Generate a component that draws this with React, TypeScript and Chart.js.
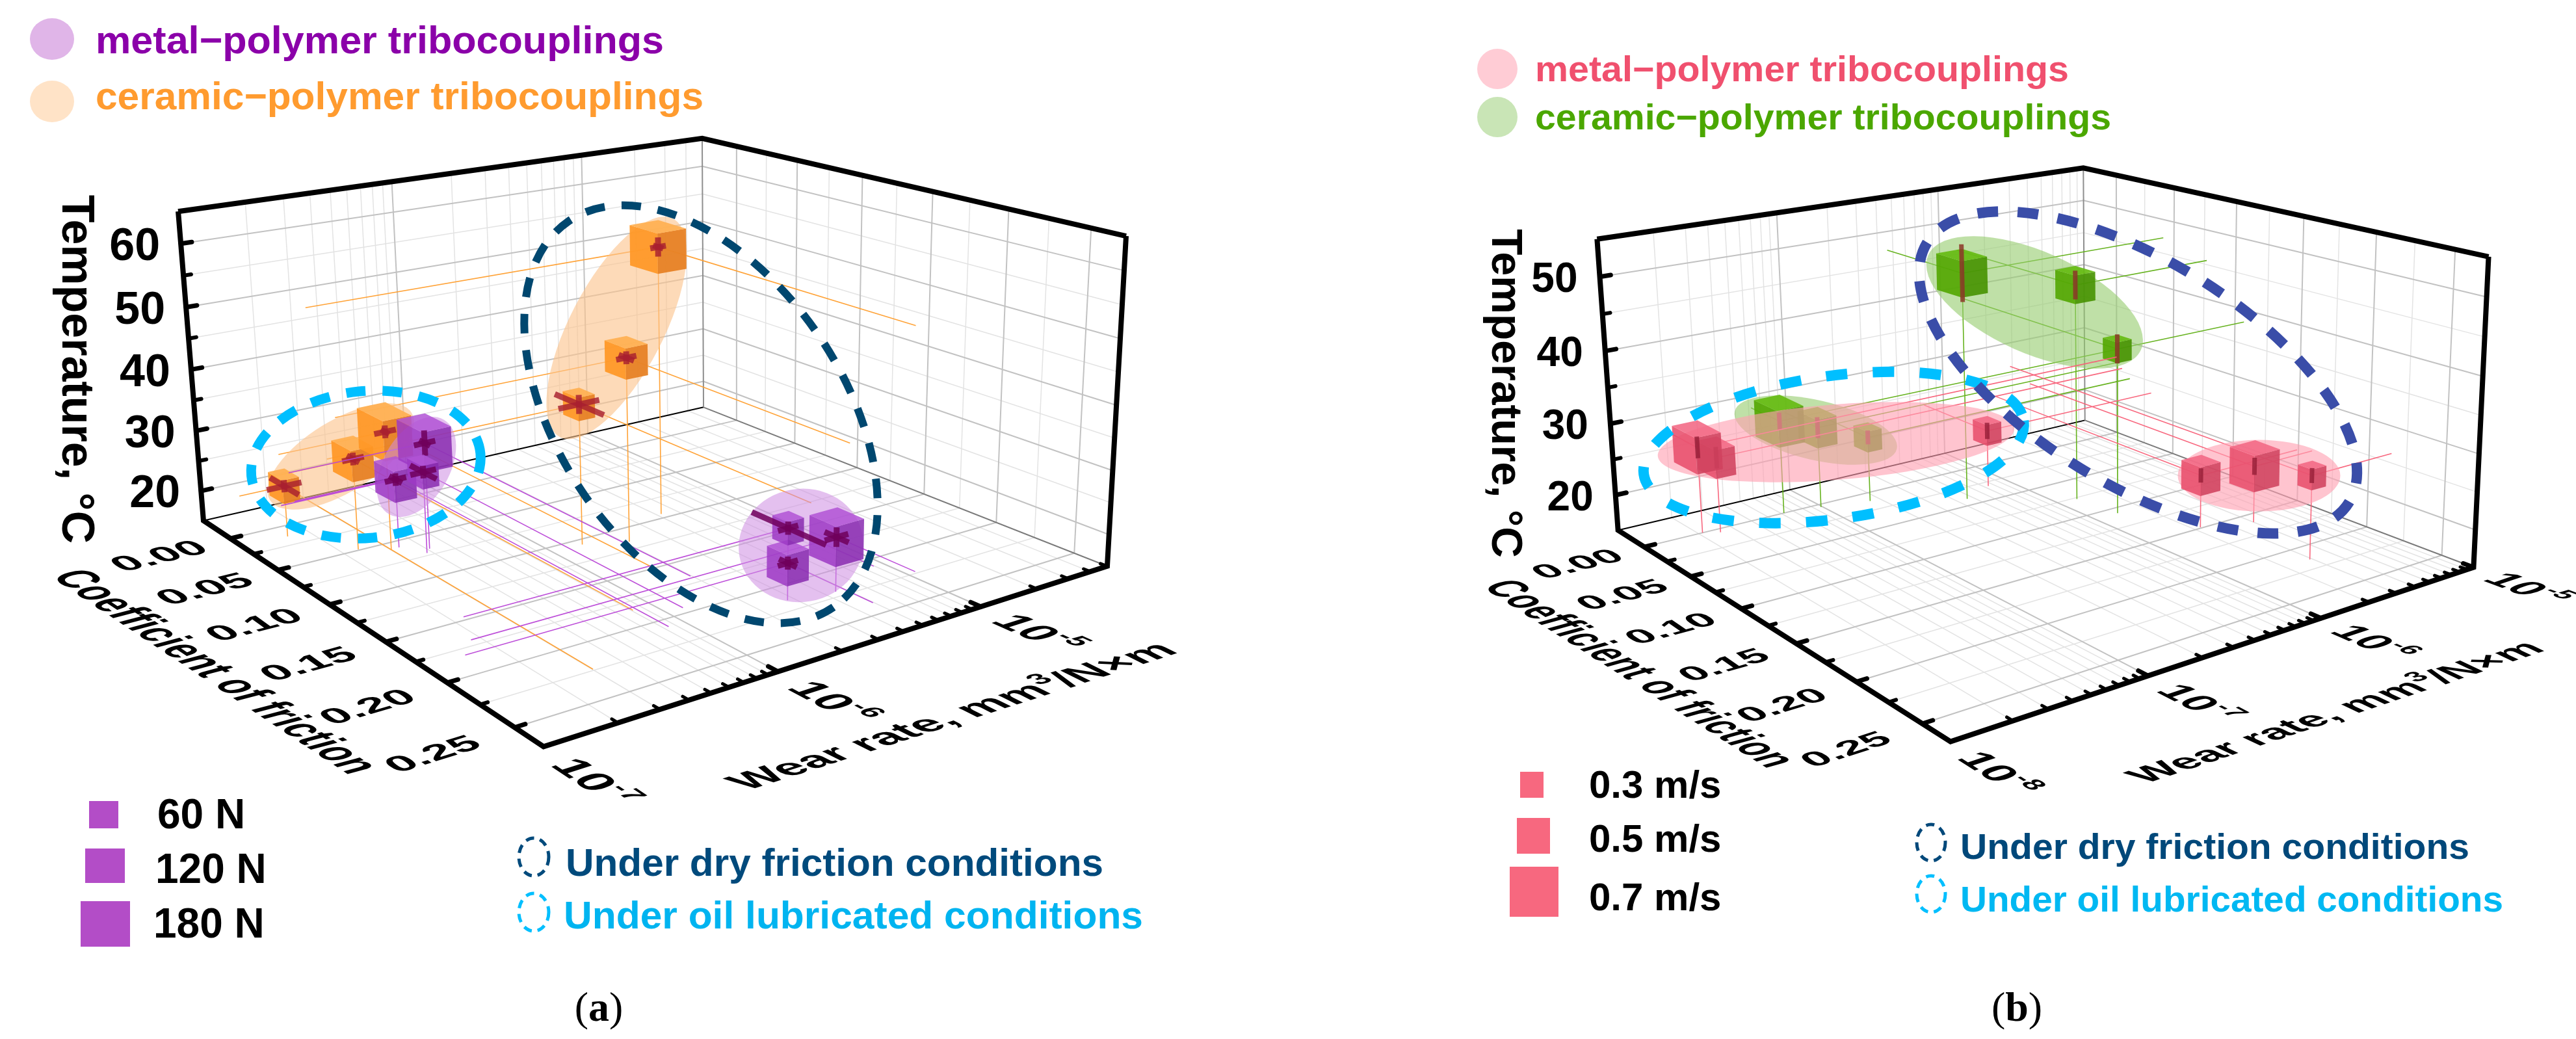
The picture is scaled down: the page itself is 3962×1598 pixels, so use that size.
import React, { useEffect, useRef } from "react";
import { Chart, registerables } from "chart.js";

Chart.register(...registerables);

const SANS = '"Liberation Sans", Arial, Helvetica, sans-serif';
const SERIF = '"Liberation Serif", "Times New Roman", Times, serif';

/* ======================= Panel (a): normal load ======================= */
const A_COF_TICKS = [0, 0.05, 0.1, 0.15, 0.2, 0.25];
const A_COF_LABELS = ["0.00", "0.05", "0.10", "0.15", "0.20", "0.25"];
const A_TEMP_TICKS = [20, 30, 40, 50, 60];
const A_TEMP_LABELS = ["20", "30", "40", "50", "60"];
const A_WEAR_DECADES = [-7, -6, -5];
const A_WEAR_EXPONENTS = ["-7", "-6", "-5"];
const A_LOADS = [60, 120, 180];
const A_LOAD_LABELS = ["60 N", "120 N", "180 N"];

// metal-polymer tribocouplings (oil: 0-2, dry: 3-5)
const A_MET_COF = [0.068, 0.072, 0.058, 0.215, 0.22, 0.215];
const A_MET_WEAR = [4.1e-7, 3.8e-7, 3.3e-7, 2.8e-6, 4.5e-6, 2.8e-6];
const A_MET_TEMP = [32, 28, 26, 26, 23.4, 20.7];
const A_MET_LOAD = [180, 60, 120, 60, 180, 120];
const A_MET_ERR_COF = [0.005, 0.012, 0.006, 0.025, 0.008, 0.006];
const A_MET_ERR_WEAR = [0.05, 0.06, 0.05, 0.05, 0.06, 0.05];
const A_MET_ERR_TEMP = [2, 1, 1, 1, 1.5, 1];

// ceramic-polymer tribocouplings (oil: 0-2, dry: 3-5)
const A_CER_COF = [0.014, 0.049, 0.059, 0.106, 0.116, 0.095];
const A_CER_WEAR = [1.6e-7, 2.35e-7, 3.0e-7, 1.4e-6, 2.1e-6, 4.2e-6];
const A_CER_TEMP = [23.3, 29.6, 34, 37.5, 44.4, 58.5];
const A_CER_LOAD = [60, 120, 180, 60, 120, 180];
const A_CER_ERR_COF = [0.015, 0.006, 0.004, 0.02, 0.006, 0.004];
const A_CER_ERR_WEAR = [0.08, 0.05, 0.05, 0.1, 0.05, 0.04];
const A_CER_ERR_TEMP = [1, 1, 1, 1.5, 1, 1.5];

/* ======================= Panel (b): sliding speed ======================= */
const B_COF_TICKS = [0, 0.05, 0.1, 0.15, 0.2, 0.25];
const B_COF_LABELS = ["0.00", "0.05", "0.10", "0.15", "0.20", "0.25"];
const B_TEMP_TICKS = [20, 30, 40, 50];
const B_TEMP_LABELS = ["20", "30", "40", "50"];
const B_WEAR_DECADES = [-8, -7, -6, -5];
const B_WEAR_EXPONENTS = ["-8", "-7", "-6", "-5"];
const B_SPEEDS = [0.3, 0.5, 0.7];
const B_SPEED_LABELS = ["0.3 m/s", "0.5 m/s", "0.7 m/s"];

// metal-polymer (oil: 0-2, dry: 3-5)
const B_MET_COF = [0.0, 0.005, 0.031, 0.149, 0.16, 0.215];
const B_MET_WEAR = [2.1e-8, 2.5e-8, 7.4e-7, 2.2e-6, 4.0e-6, 2.9e-6];
const B_MET_TEMP = [27, 25.5, 23.2, 22.3, 22.9, 26.3];
const B_MET_SPEED = [0.7, 0.5, 0.3, 0.5, 0.7, 0.3];
const B_MET_ERR_TEMP = [1.5, 1.5, 1.2, 1, 1.2, 1];

// ceramic-polymer (dry: 0-2, oil: 3-5)
const B_CER_COF = [0.041, 0.077, 0.107, 0.0, 0.004, 0.012];
const B_CER_WEAR = [4.6e-7, 1.3e-6, 1.4e-6, 6.2e-8, 9.8e-8, 1.75e-7];
const B_CER_TEMP = [47.3, 45.6, 38.2, 28.2, 26.5, 24.3];
const B_CER_SPEED = [0.7, 0.5, 0.3, 0.7, 0.5, 0.3];
const B_CER_ERR_TEMP = [4, 2, 2, 1.2, 1.5, 1];

/* ======================= layout / styles ======================= */
const PANEL_A: any = {
  left: 0, width: 1981, height: 1598,
  corners: { A: [313, 801], B: [836, 1148], C: [1703, 871], D: [1082, 626], At: [274, 325], Dt: [1080, 213], Ct: [1732, 363] },
  cofRange: [-0.03, 0.27], wearRange: [-7, -4.3], tempRange: [15, 65],
  cofTicks: A_COF_TICKS, cofLabels: A_COF_LABELS, tempTicks: A_TEMP_TICKS, tempLabels: A_TEMP_LABELS,
  wearDecades: A_WEAR_DECADES, wearExponents: A_WEAR_EXPONENTS,
  classes: A_LOADS, classLabels: A_LOAD_LABELS, cubePx: [36, 48, 62],
  dropTo: [1, 0, 0],
  tempLabel: { font: 70, gap: 32 },
  cofLabel: { font: 72, k: 0.66, v: -0.12 },
  wearLabel: { font: 71, k: 0.95, u: 1.115 },
  cofTitle: { x: 335, y: 1032, font: 55, k: 1.45 },
  wearTitle: { x: 1462, y: 1100, font: 72, k: 0.85 },
  tempTitle: { x: 121, y: 568, font: 70 },
  series: [
    {
      data: { cof: A_CER_COF, wear: A_CER_WEAR, temp: A_CER_TEMP, cls: A_CER_LOAD, eCof: A_CER_ERR_COF, eWear: A_CER_ERR_WEAR, eTemp: A_CER_ERR_TEMP },
      style: { line: "rgba(255,158,45,0.95)", lineWidth: 1.6, faces: ["rgba(255,152,38,0.93)", "rgba(230,128,34,0.93)", "rgba(255,176,82,0.93)"], err: "rgba(168,32,48,0.82)", errWidth: 9, fill: "rgba(252,196,140,0.62)" },
      groups: [
        { idx: [0, 1, 2], a: 128, b: 55, rot: -31.6, dx: 0, dy: -4 },
        { idx: [3, 4, 5], a: 189, b: 72, rot: -62.6, dx: -7, dy: -13 },
      ],
    },
    {
      data: { cof: A_MET_COF, wear: A_MET_WEAR, temp: A_MET_TEMP, cls: A_MET_LOAD, eCof: A_MET_ERR_COF, eWear: A_MET_ERR_WEAR, eTemp: A_MET_ERR_TEMP },
      style: { line: "rgba(185,70,215,0.95)", lineWidth: 1.6, faces: ["rgba(158,58,198,0.85)", "rgba(136,44,176,0.85)", "rgba(178,84,214,0.85)"], err: "rgba(112,0,92,0.85)", errWidth: 9, fill: "rgba(206,140,226,0.55)" },
      groups: [
        { idx: [0, 1, 2], a: 84, b: 51, rot: -59.9, dx: 3, dy: 3 },
        { idx: [3, 4, 5], a: 96, b: 87, rot: -10, dx: -5, dy: 4 },
      ],
    },
  ],
  dashed: [
    { members: [[0, [0, 1, 2]], [1, [0, 1, 2]]], a: 177, b: 113, rot: -5.6, dx: -18, dy: 4, color: "#00BFFF", width: 15, dash: [30, 26] },
    { members: [[0, [3, 4, 5]], [1, [3, 4, 5]]], a: 360, b: 218, rot: 55.5, dx: -18, dy: -39, color: "#00476F", width: 12, dash: [30, 26] },
  ],
  legend: {
    top: [
      { ex: 80, ey: 60, rx: 34, ry: 32, fill: "#E0B5E8", text: "metal\u2212polymer tribocouplings", x: 147, y: 82, size: 60, w: 874, color: "#8B00A9" },
      { ex: 80, ey: 156, rx: 34, ry: 32, fill: "#FFE3C7", text: "ceramic\u2212polymer tribocouplings", x: 147, y: 168, size: 60, w: 935, color: "#FF9B2F" },
    ],
    squareFill: "#B34DC7", squareFont: 64,
    squares: [
      { x: 137, y: 1232, w: 45, h: 42, tx: 242, ty: 1274 },
      { x: 131, y: 1305, w: 61, h: 53, tx: 239, ty: 1358 },
      { x: 124, y: 1386, w: 76, h: 70, tx: 236, ty: 1442 },
    ],
    condFont: 60,
    conds: [
      { cx: 821, cy: 1318, rx: 23, ry: 29, color: "#004A7C", text: "Under dry friction conditions", tx: 870, ty: 1347, w: 827, tcolor: "#004A7C" },
      { cx: 821, cy: 1403, rx: 23, ry: 29, color: "#00BFFF", text: "Under oil lubricated conditions", tx: 867, ty: 1428, w: 891, tcolor: "#00B4F0" },
    ],
    tag: { x: 921, y: 1570, letter: "a", size: 64 },
  },
};

const PANEL_B: any = {
  left: 1981, width: 1981, height: 1598,
  corners: { A: [2489, 815], B: [3000, 1141], C: [3805, 872], D: [3206, 647], At: [2456, 368], Dt: [3205, 258], Ct: [3827, 395] },
  cofRange: [-0.03, 0.27], wearRange: [-8, -5], tempRange: [15, 55],
  cofTicks: B_COF_TICKS, cofLabels: B_COF_LABELS, tempTicks: B_TEMP_TICKS, tempLabels: B_TEMP_LABELS,
  wearDecades: B_WEAR_DECADES, wearExponents: B_WEAR_EXPONENTS,
  classes: B_SPEEDS, classLabels: B_SPEED_LABELS, cubePx: [32, 44, 56],
  dropTo: [0, 1, 0],
  tempLabel: { font: 64, gap: 34 },
  cofLabel: { font: 68, k: 0.66, v: -0.12 },
  wearLabel: { font: 66, k: 0.95, u: 1.11 },
  cofTitle: { x: 2525, y: 1035, font: 52, k: 1.45 },
  wearTitle: { x: 3590, y: 1094, font: 67, k: 0.85 },
  tempTitle: { x: 2319, y: 605, font: 66 },
  series: [
    {
      data: { cof: B_CER_COF, wear: B_CER_WEAR, temp: B_CER_TEMP, cls: B_CER_SPEED, eTemp: B_CER_ERR_TEMP },
      style: { line: "rgba(95,175,20,0.95)", lineWidth: 1.6, faces: ["rgba(82,166,0,0.9)", "rgba(70,146,0,0.9)", "rgba(100,186,16,0.9)"], err: "rgba(140,55,40,0.85)", errWidth: 7, fill: "rgba(148,204,108,0.6)" },
      groups: [
        { idx: [0, 1, 2], a: 179, b: 78, rot: 24, dx: -26, dy: 0 },
        { idx: [3, 4, 5], a: 128, b: 46, rot: 13, dx: -9, dy: 2 },
      ],
    },
    {
      data: { cof: B_MET_COF, wear: B_MET_WEAR, temp: B_MET_TEMP, cls: B_MET_SPEED, eTemp: B_MET_ERR_TEMP },
      style: { line: "rgba(248,96,120,0.95)", lineWidth: 1.6, faces: ["rgba(232,78,108,0.88)", "rgba(208,66,94,0.88)", "rgba(242,104,132,0.88)"], err: "rgba(150,30,55,0.8)", errWidth: 7, fill: "rgba(255,160,178,0.62)" },
      groups: [
        { idx: [0, 1, 2], a: 275, b: 58, rot: -4.5, dx: 55, dy: -5 },
        { idx: [3, 4, 5], a: 125, b: 55, rot: 0, dx: 5, dy: 5 },
      ],
    },
  ],
  dashed: [
    { members: [[0, [3, 4, 5]], [1, [0, 1, 2]]], a: 295, b: 110, rot: -8, dx: 35, dy: 16, color: "#00BFFF", width: 16, dash: [33, 39] },
    { members: [[0, [0, 1, 2]], [1, [3, 4, 5]]], a: 381, b: 172, rot: 31.6, dx: -24, dy: -23, color: "#3A4DA8", width: 16, dash: [32, 30] },
  ],
  legend: {
    top: [
      { ex: 2303, ey: 106, rx: 31, ry: 31, fill: "#FFCCD5", text: "metal\u2212polymer tribocouplings", x: 2361, y: 125, size: 55, w: 821, color: "#F0506E" },
      { ex: 2303, ey: 180, rx: 31, ry: 31, fill: "#C9E5B6", text: "ceramic\u2212polymer tribocouplings", x: 2361, y: 199, size: 55, w: 886, color: "#4BA700" },
    ],
    squareFill: "#F7687F", squareFont: 60,
    squares: [
      { x: 2338, y: 1187, w: 36, h: 40, tx: 2444, ty: 1227 },
      { x: 2333, y: 1258, w: 51, h: 55, tx: 2444, ty: 1310 },
      { x: 2322, y: 1333, w: 75, h: 77, tx: 2444, ty: 1400 },
    ],
    condFont: 56,
    conds: [
      { cx: 2970, cy: 1296, rx: 22, ry: 28, color: "#00487A", text: "Under dry friction conditions", tx: 3015, ty: 1321, w: 783, tcolor: "#00487A" },
      { cx: 2970, cy: 1375, rx: 22, ry: 28, color: "#00BFFF", text: "Under oil lubricated conditions", tx: 3015, ty: 1402, w: 835, tcolor: "#00B8F2" },
    ],
    tag: { x: 3102, y: 1570, letter: "b", size: 64 },
  },
};

/* ======================= geometry helpers ======================= */
type P2 = [number, number];

function solve(M: number[][], r: number[]): number[] {
  const n = r.length;
  const A = M.map((row, i) => [...row, r[i]]);
  for (let c = 0; c < n; c++) {
    let piv = c;
    for (let i = c + 1; i < n; i++) if (Math.abs(A[i][c]) > Math.abs(A[piv][c])) piv = i;
    const tmp = A[c]; A[c] = A[piv]; A[piv] = tmp;
    for (let i = 0; i < n; i++) {
      if (i === c) continue;
      const f = A[i][c] / A[c][c];
      for (let k = c; k <= n; k++) A[i][k] -= f * A[c][k];
    }
  }
  return A.map((row, i) => row[n] / row[i]);
}

// perspective camera fitted to the box corners (DLT, least squares)
function fitProjection(c: any) {
  const pts: [number, number, number, P2][] = [
    [0, 0, 0, c.A], [1, 0, 0, c.B], [1, 1, 0, c.C], [0, 1, 0, c.D],
    [0, 0, 1, c.At], [0, 1, 1, c.Dt], [1, 1, 1, c.Ct],
  ];
  const rows: number[][] = [];
  const rhs: number[] = [];
  pts.forEach(([X, Y, Z, s]) => {
    const x = s[0] / 1000, y = s[1] / 1000;
    rows.push([X, Y, Z, 1, 0, 0, 0, 0, -x * X, -x * Y, -x * Z]); rhs.push(x);
    rows.push([0, 0, 0, 0, X, Y, Z, 1, -y * X, -y * Y, -y * Z]); rhs.push(y);
  });
  const n = 11;
  const N = Array.from({ length: n }, () => new Array(n).fill(0));
  const r = new Array(n).fill(0);
  rows.forEach((row, i) => {
    for (let a = 0; a < n; a++) {
      r[a] += row[a] * rhs[i];
      for (let b = 0; b < n; b++) N[a][b] += row[a] * row[b];
    }
  });
  const q = solve(N, r);
  return (X: number, Y: number, Z: number): P2 => {
    const w = q[8] * X + q[9] * Y + q[10] * Z + 1;
    return [(1000 * (q[0] * X + q[1] * Y + q[2] * Z + q[3])) / w, (1000 * (q[4] * X + q[5] * Y + q[6] * Z + q[7])) / w];
  };
}

const unit = (a: P2, b: P2): P2 => {
  const dx = b[0] - a[0], dy = b[1] - a[1];
  const l = Math.hypot(dx, dy) || 1;
  return [dx / l, dy / l];
};

function runsCentered(ctx: CanvasRenderingContext2D, runs: [string, number, number][], size: number, color: string) {
  ctx.fillStyle = color;
  ctx.textAlign = "left";
  ctx.textBaseline = "alphabetic";
  let total = 0;
  const ws = runs.map((r) => {
    ctx.font = `bold ${size * r[1]}px ${SANS}`;
    const w = ctx.measureText(r[0]).width;
    total += w;
    return w;
  });
  let x = -total / 2;
  runs.forEach((r, i) => {
    ctx.font = `bold ${size * r[1]}px ${SANS}`;
    ctx.fillText(r[0], x, size * 0.36 - r[2] * size);
    x += ws[i];
  });
}

function planeText(ctx: CanvasRenderingContext2D, runs: [string, number, number][], P: P2, b: P2, d: P2, size: number, k: number, color: string) {
  ctx.save();
  ctx.translate(P[0], P[1]);
  ctx.transform(b[0], b[1], -d[0] * k, -d[1] * k, 0, 0);
  runsCentered(ctx, runs, size, color);
  ctx.restore();
}

function fitText(ctx: CanvasRenderingContext2D, text: string, x: number, y: number, size: number, color: string, targetW?: number, align = "left", font = SANS, weight = "bold") {
  ctx.save();
  ctx.font = `${weight} ${size}px ${font}`;
  ctx.fillStyle = color;
  ctx.textAlign = "left";
  ctx.textBaseline = "alphabetic";
  const w = ctx.measureText(text).width;
  const sx = targetW ? targetW / w : 1;
  let x0 = x;
  if (align === "right") x0 = x - w * sx;
  else if (align === "center") x0 = x - (w * sx) / 2;
  ctx.translate(x0, y);
  ctx.scale(sx, 1);
  ctx.fillText(text, 0, 0);
  ctx.restore();
}

/* ======================= chart builder ======================= */
function buildChart(canvas: HTMLCanvasElement, cfg: any): Chart {
  const proj = fitProjection(cfg.corners);
  const [c0, c1] = cfg.cofRange;
  const [l0, l1] = cfg.wearRange;
  const [t0, t1] = cfg.tempRange;
  const U = (c: number) => (c - c0) / (c1 - c0);
  const VL = (lg: number) => (lg - l0) / (l1 - l0);
  const V = (x: number) => VL(Math.log10(x));
  const W = (t: number) => (t - t0) / (t1 - t0);
  const val = (p: P2) => ({ x: p[0] - cfg.left, y: p[1] });

  const datasets: any[] = [];
  cfg.series.forEach((s: any, si: number) => {
    const d = s.data;
    const uvw = d.cof.map((c: number, i: number) => [U(c), V(d.wear[i]), W(d.temp[i])]);
    const drops: any[] = [];
    uvw.forEach(([u, v, w]: number[]) => {
      const targets = [[cfg.dropTo[0], v, w], [u, cfg.dropTo[1], w], [u, v, cfg.dropTo[2]]];
      targets.forEach((q) => {
        drops.push(val(proj(u, v, w)), val(proj(q[0], q[1], q[2])), { x: null, y: null });
      });
    });
    datasets.push({
      role: "drops", series: si, data: drops, showLine: true, spanGaps: false,
      borderColor: s.style.line, borderWidth: s.style.lineWidth, pointRadius: 0, pointHoverRadius: 0, order: 10 - si,
    });
    datasets.push({
      role: "points", series: si, uvw, data: uvw.map(([u, v, w]: number[]) => val(proj(u, v, w))),
      showLine: false, pointRadius: 0, pointHoverRadius: 0, order: 1,
    });
  });

  const pixFn = (chart: any) => {
    const sx = chart.scales.x, sy = chart.scales.y;
    return (p: P2): P2 => [sx.getPixelForValue(p[0] - cfg.left), sy.getPixelForValue(p[1])];
  };

  const seg = (ctx: CanvasRenderingContext2D, a: P2, b: P2, col: string, lw: number, cap: CanvasLineCap = "butt") => {
    ctx.strokeStyle = col; ctx.lineWidth = lw; ctx.lineCap = cap;
    ctx.beginPath(); ctx.moveTo(a[0], a[1]); ctx.lineTo(b[0], b[1]); ctx.stroke();
  };

  const drawBox = (chart: any) => {
    const ctx: CanvasRenderingContext2D = chart.ctx;
    const px = pixFn(chart);
    const G = (u: number, v: number, w: number) => px(proj(u, v, w));
    const cofMax = cfg.cofTicks[cfg.cofTicks.length - 1];
    const cofT: any[] = [];
    for (let i = 0; i * 0.025 <= cofMax + 1e-9; i++) cofT.push({ u: U(i * 0.025), major: i % 2 === 0 });
    const tempT: any[] = [];
    for (let t = Math.ceil((t0 + 0.001) / 5) * 5; t < t1 - 0.001; t += 5) tempT.push({ w: W(t), major: t % 10 === 0 });
    const wearT: any[] = [];
    for (let dd = Math.floor(l0); dd <= Math.ceil(l1); dd++) {
      for (let k = 1; k <= 9; k++) {
        const lg = dd + Math.log10(k);
        if (lg >= l0 - 1e-6 && lg <= l1 + 1e-6) wearT.push({ v: VL(lg), major: k === 1 });
      }
    }
    const inner = (x: number) => x > 0.002 && x < 0.998;

    ctx.save();
    [false, true].forEach((major) => {
      const col = major ? "#c2c2c2" : "#e3e3e3";
      const lw = major ? 2 : 1.5;
      wearT.forEach((t) => { if (t.major === major && inner(t.v)) seg(ctx, G(0, t.v, 0), G(0, t.v, 1), col, lw); });
      tempT.forEach((t) => { if (t.major === major) seg(ctx, G(0, 0, t.w), G(0, 1, t.w), col, lw); });
      cofT.forEach((t) => { if (t.major === major && inner(t.u)) seg(ctx, G(t.u, 1, 0), G(t.u, 1, 1), col, lw); });
      tempT.forEach((t) => { if (t.major === major) seg(ctx, G(0, 1, t.w), G(1, 1, t.w), col, lw); });
      cofT.forEach((t) => { if (t.major === major && inner(t.u)) seg(ctx, G(t.u, 0, 0), G(t.u, 1, 0), col, lw); });
      wearT.forEach((t) => { if (t.major === major && inner(t.v)) seg(ctx, G(0, t.v, 0), G(1, t.v, 0), col, lw); });
    });
    seg(ctx, G(0, 0, 0), G(0, 1, 0), "#000000", 2);
    seg(ctx, G(0, 1, 0), G(1, 1, 0), "#7a7a7a", 2);
    seg(ctx, G(0, 1, 0), G(0, 1, 1), "#8e8e8e", 2);

    ctx.strokeStyle = "#000"; ctx.lineWidth = 8; ctx.lineJoin = "miter"; ctx.lineCap = "butt";
    const poly = (pts: P2[]) => { ctx.beginPath(); ctx.moveTo(pts[0][0], pts[0][1]); pts.slice(1).forEach((p) => ctx.lineTo(p[0], p[1])); ctx.stroke(); };
    poly([G(0, 0, 1), G(0, 1, 1), G(1, 1, 1)]);
    poly([G(0, 0, 1), G(0, 0, 0), G(1, 0, 0), G(1, 1, 0), G(1, 1, 1)]);

    const tick = (base: P2, toward: P2, len: number, lw: number) => {
      const d = unit(base, toward);
      seg(ctx, base, [base[0] + d[0] * len, base[1] + d[1] * len], "#000", lw, "round");
    };
    tempT.forEach((t) => tick(G(0, 0, t.w), G(0, 0.05, t.w), t.major ? 17 : 12, t.major ? 7 : 6));
    cofT.forEach((t) => tick(G(t.u, 0, 0), G(t.u, 0.05, 0), t.major ? 17 : 12, t.major ? 7 : 6));
    wearT.forEach((t) => tick(G(1, t.v, 0), G(0.95, t.v, 0), t.major ? 17 : 11, t.major ? 7 : 5));

    cfg.tempTicks.forEach((t: number, i: number) => {
      const p = G(0, 0, W(t));
      fitText(ctx, cfg.tempLabels[i], p[0] - cfg.tempLabel.gap, p[1] + cfg.tempLabel.font * 0.36, cfg.tempLabel.font, "#000", undefined, "right");
    });
    cfg.cofTicks.forEach((c: number, i: number) => {
      const u = U(c), v = cfg.cofLabel.v;
      const P = G(u, v, 0);
      planeText(ctx, [[cfg.cofLabels[i], 1, 0]], P, unit(P, G(u, v + 0.05, 0)), unit(P, G(u - 0.05, v, 0)), cfg.cofLabel.font, cfg.cofLabel.k, "#000");
    });
    cfg.wearDecades.forEach((dd: number, i: number) => {
      const u = cfg.wearLabel.u, v = VL(dd);
      const P = G(u, v, 0);
      const A0 = G(1, v, 0);
      planeText(ctx, [["10", 1, 0], [cfg.wearExponents[i], 0.62, 0.42]], P, unit(A0, G(1.05, v, 0)), unit(A0, G(1, v + 0.05, 0)), cfg.wearLabel.font, cfg.wearLabel.k, "#000");
    });
    const ct = cfg.cofTitle;
    planeText(ctx, [["Coefficient of friction", 1, 0]], px([ct.x, ct.y]), unit(G(0.45, 0, 0), G(0.55, 0, 0)), unit(G(0.5, 0, 0), G(0.5, 0.05, 0)), ct.font, ct.k, "#000");
    const wt = cfg.wearTitle;
    planeText(ctx, [["Wear rate, mm", 1, 0], ["3", 0.65, 0.42], ["/N\u00d7m", 1, 0]], px([wt.x, wt.y]), unit(G(1, 0.45, 0), G(1, 0.55, 0)), unit(G(1, 0.5, 0), G(0.95, 0.5, 0)), wt.font, wt.k, "#000");
    const tt = cfg.tempTitle;
    ctx.save();
    const tp = px([tt.x, tt.y]);
    ctx.translate(tp[0], tp[1]);
    ctx.rotate(Math.PI / 2);
    runsCentered(ctx, [["Temperature, \u00b0C", 1, 0]], tt.font, "#000");
    ctx.restore();
    ctx.restore();
  };

  const pointsOf = (chart: any, si: number): P2[] => {
    const idx = chart.data.datasets.findIndex((d: any) => d.role === "points" && d.series === si);
    return chart.getDatasetMeta(idx).data.map((e: any) => [e.x, e.y] as P2);
  };
  const uvwOf = (chart: any, si: number) => chart.data.datasets.find((d: any) => d.role === "points" && d.series === si).uvw;
  const centroid = (pts: P2[]): P2 => [pts.reduce((a, p) => a + p[0], 0) / pts.length, pts.reduce((a, p) => a + p[1], 0) / pts.length];

  const drawSeries = (chart: any, si: number) => {
    const ctx: CanvasRenderingContext2D = chart.ctx;
    const px = pixFn(chart);
    const G = (u: number, v: number, w: number) => px(proj(u, v, w));
    const s = cfg.series[si];
    const pts = pointsOf(chart, si);
    const uvw = uvwOf(chart, si);
    ctx.save();
    s.groups.forEach((g: any) => {
      const c = centroid(g.idx.map((i: number) => pts[i]));
      ctx.beginPath();
      ctx.ellipse(c[0] + g.dx, c[1] + g.dy, g.a, g.b, (g.rot * Math.PI) / 180, 0, Math.PI * 2);
      ctx.fillStyle = s.style.fill;
      ctx.fill();
    });
    const order = uvw.map((_: any, i: number) => i).sort((i: number, j: number) => {
      const ki = uvw[i][0] - uvw[i][1] + 0.2 * uvw[i][2];
      const kj = uvw[j][0] - uvw[j][1] + 0.2 * uvw[j][2];
      return ki - kj;
    });
    order.forEach((i: number) => {
      const [u, v, w] = uvw[i];
      const P = pts[i];
      const base = G(u, v, w);
      const eu = unit(base, G(u + 0.02, v, w));
      const ev = unit(base, G(u, v + 0.02, w));
      const ew = unit(base, G(u, v, w + 0.02));
      const size = cfg.cubePx[cfg.classes.indexOf(s.data.cls[i])] || cfg.cubePx[1];
      const h = size / 2, hh = size * 0.36;
      const c = (a: number, b: number, d: number): P2 => [
        P[0] + a * hh * eu[0] + b * hh * ev[0] + d * h * ew[0],
        P[1] + a * hh * eu[1] + b * hh * ev[1] + d * h * ew[1],
      ];
      const face = (q: P2[], col: string) => {
        ctx.beginPath(); ctx.moveTo(q[0][0], q[0][1]);
        q.slice(1).forEach((p) => ctx.lineTo(p[0], p[1]));
        ctx.closePath(); ctx.fillStyle = col; ctx.fill();
      };
      face([c(-1, -1, -1), c(1, -1, -1), c(1, -1, 1), c(-1, -1, 1)], s.style.faces[0]);
      face([c(1, -1, -1), c(1, 1, -1), c(1, 1, 1), c(1, -1, 1)], s.style.faces[1]);
      face([c(-1, -1, 1), c(1, -1, 1), c(1, 1, 1), c(-1, 1, 1)], s.style.faces[2]);
      const d = s.data;
      if (d.eCof) seg(ctx, G(U(d.cof[i] - d.eCof[i]), v, w), G(U(d.cof[i] + d.eCof[i]), v, w), s.style.err, s.style.errWidth);
      if (d.eWear) {
        const lg = Math.log10(d.wear[i]);
        seg(ctx, G(u, VL(lg - d.eWear[i]), w), G(u, VL(lg + d.eWear[i]), w), s.style.err, s.style.errWidth);
      }
      if (d.eTemp) seg(ctx, G(u, v, W(d.temp[i] - d.eTemp[i])), G(u, v, W(d.temp[i] + d.eTemp[i])), s.style.err, s.style.errWidth);
    });
    ctx.restore();
  };

  const drawDashed = (chart: any) => {
    const ctx: CanvasRenderingContext2D = chart.ctx;
    ctx.save();
    cfg.dashed.forEach((e: any) => {
      const all: P2[] = [];
      e.members.forEach(([si, idx]: [number, number[]]) => {
        const pts = pointsOf(chart, si);
        idx.forEach((i) => all.push(pts[i]));
      });
      const c = centroid(all);
      ctx.beginPath();
      ctx.ellipse(c[0] + e.dx, c[1] + e.dy, e.a, e.b, (e.rot * Math.PI) / 180, 0, Math.PI * 2);
      ctx.setLineDash(e.dash);
      ctx.lineCap = "butt";
      ctx.strokeStyle = e.color;
      ctx.lineWidth = e.width;
      ctx.stroke();
    });
    ctx.restore();
  };

  const drawLegend = (chart: any) => {
    const ctx: CanvasRenderingContext2D = chart.ctx;
    const px = pixFn(chart);
    const lg = cfg.legend;
    ctx.save();
    lg.top.forEach((t: any) => {
      const c = px([t.ex, t.ey]);
      ctx.beginPath(); ctx.ellipse(c[0], c[1], t.rx, t.ry, 0, 0, Math.PI * 2);
      ctx.fillStyle = t.fill; ctx.fill();
      const p = px([t.x, t.y]);
      fitText(ctx, t.text, p[0], p[1], t.size, t.color, t.w);
    });
    lg.squares.forEach((q: any, i: number) => {
      const p = px([q.x, q.y]);
      ctx.fillStyle = lg.squareFill;
      ctx.fillRect(p[0], p[1], q.w, q.h);
      const tp = px([q.tx, q.ty]);
      fitText(ctx, cfg.classLabels[i], tp[0], tp[1], lg.squareFont, "#000");
    });
    lg.conds.forEach((c: any) => {
      const p = px([c.cx, c.cy]);
      ctx.save();
      ctx.beginPath(); ctx.ellipse(p[0], p[1], c.rx, c.ry, 0, 0, Math.PI * 2);
      ctx.setLineDash([13, 9]); ctx.lineWidth = 5; ctx.strokeStyle = c.color; ctx.stroke();
      ctx.restore();
      const tp = px([c.tx, c.ty]);
      fitText(ctx, c.text, tp[0], tp[1], lg.condFont, c.tcolor, c.w);
    });
    const tg = lg.tag;
    const tp = px([tg.x, tg.y]);
    ctx.font = `${tg.size}px ${SERIF}`;
    const wp = ctx.measureText("(").width;
    const wc = ctx.measureText(")").width;
    ctx.font = `bold ${tg.size}px ${SERIF}`;
    const wl = ctx.measureText(tg.letter).width;
    let x = tp[0] - (wp + wl + wc) / 2;
    ctx.fillStyle = "#000"; ctx.textAlign = "left"; ctx.textBaseline = "alphabetic";
    ctx.font = `${tg.size}px ${SERIF}`; ctx.fillText("(", x, tp[1]); x += wp;
    ctx.font = `bold ${tg.size}px ${SERIF}`; ctx.fillText(tg.letter, x, tp[1]); x += wl;
    ctx.font = `${tg.size}px ${SERIF}`; ctx.fillText(")", x, tp[1]);
    ctx.restore();
  };

  const plugin = {
    id: "tribo3d",
    beforeDatasetsDraw(chart: any) { drawBox(chart); },
    afterDatasetDraw(chart: any, args: any) {
      const ds = chart.data.datasets[args.index];
      if (ds && ds.role === "drops") drawSeries(chart, ds.series);
    },
    afterDatasetsDraw(chart: any) { drawDashed(chart); },
    afterDraw(chart: any) { drawLegend(chart); },
  };

  return new Chart(canvas, {
    type: "scatter",
    data: { datasets },
    options: {
      animation: false,
      responsive: false,
      devicePixelRatio: 1,
      events: [],
      layout: { padding: 0 },
      plugins: { legend: { display: false }, tooltip: { enabled: false } },
      scales: {
        x: { type: "linear", min: 0, max: cfg.width, display: false },
        y: { type: "linear", min: 0, max: cfg.height, reverse: true, display: false },
      },
    },
    plugins: [plugin],
  } as any);
}

function Panel({ cfg }: { cfg: any }) {
  const ref = useRef<HTMLCanvasElement | null>(null);
  useEffect(() => {
    if (!ref.current) return;
    const chart = buildChart(ref.current, cfg);
    return () => chart.destroy();
  }, [cfg]);
  return (
    <canvas
      ref={ref}
      width={cfg.width}
      height={cfg.height}
      style={{ position: "absolute", left: cfg.left, top: 0, width: cfg.width, height: cfg.height }}
    />
  );
}

export default function App() {
  return (
    <div style={{ position: "fixed", left: 0, top: 0, width: 3962, height: 1598, background: "#ffffff", overflow: "hidden" }}>
      <Panel cfg={PANEL_A} />
      <Panel cfg={PANEL_B} />
    </div>
  );
}
